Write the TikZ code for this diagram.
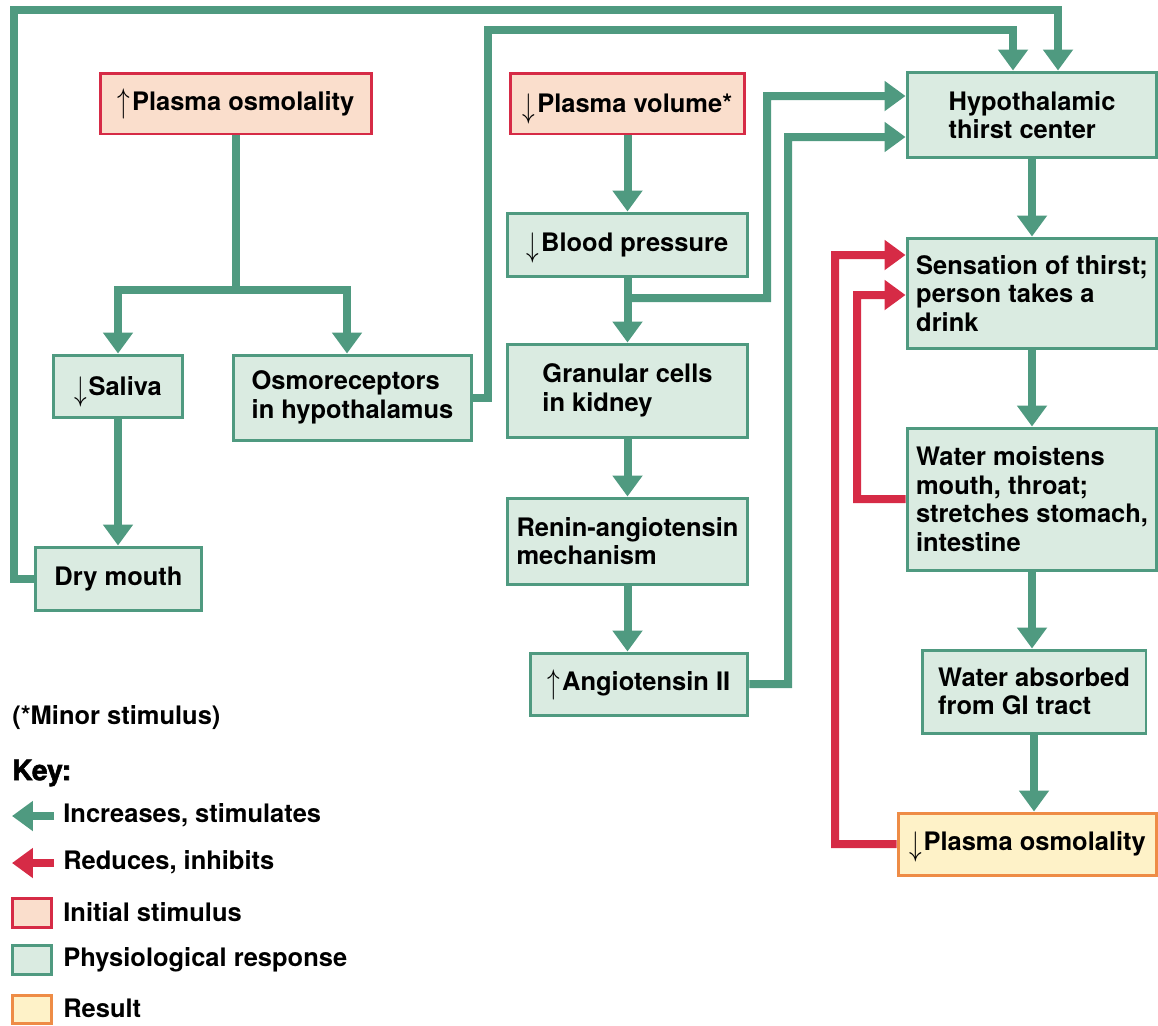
\documentclass[tikz,border=0pt]{standalone}
\usepackage{fontspec}
\setmainfont{TeX Gyre Heros}
\newfontfamily\keyfont[FakeBold=2]{texgyreheros-bold.otf}
\usetikzlibrary{arrows.meta}

\definecolor{flowgreen}{RGB}{79,154,128}
\definecolor{respfill}{RGB}{218,235,225}
\definecolor{stimred}{RGB}{214,43,70}
\definecolor{stimfill}{RGB}{250,222,204}
\definecolor{resorange}{RGB}{238,140,70}
\definecolor{resfill}{RGB}{254,242,200}

\newcommand{\incr}{\smash{\raisebox{-0.1em}{\scalebox{1}[1.35]{$\uparrow$}}}\kern1pt}
\newcommand{\decr}{\smash{\raisebox{-0.2em}{\scalebox{1}[1.35]{$\downarrow$}}}\kern1pt}

\tikzset{
    box/.style={draw=flowgreen, fill=respfill, line width=0.06cm, align=left,
        inner sep=0pt, font=\bfseries\fontsize{14.5}{16.2}\selectfont},
    stimbox/.style={box, draw=stimred, fill=stimfill},
    resbox/.style={box, draw=resorange, fill=resfill},
    link/.style={line width=0.16cm, draw=flowgreen},
    stim/.style={link, -{Triangle[width=0.58cm,length=0.42cm]}},
    inhib/.style={stim, draw=stimred},
    keytext/.style={anchor=west, inner sep=0pt, font=\bfseries\fontsize{14.5}{16.2}\selectfont}
}

\begin{document}
\begin{tikzpicture}[x=0.02cm, y=-0.02cm]
            \useasboundingbox (0,0) rectangle (1158,1025);

            % boxes
            \node[stimbox, minimum width=5.44cm, minimum height=1.22cm] (plasmaUp) at (236,103.5) {\incr Plasma osmolality};
            \node[stimbox, minimum width=4.7cm, minimum height=1.22cm] (volume) at (627.5,103.5) {\decr Plasma volume*};
            \node[box, minimum width=5.0cm, minimum height=1.72cm] (thirstCtr) at (1032,115) {Hypothalamic\\thirst center};
            \node[box, minimum width=4.82cm, minimum height=1.26cm] (bp) at (627.5,244.5) {\decr Blood pressure};
            \node[box, minimum width=5.0cm, minimum height=2.22cm] (sensation) at (1032,293.5) {Sensation of thirst;\\person takes a\\drink};
            \node[box, minimum width=2.6cm, minimum height=1.24cm] (saliva) at (118,386) {\decr Saliva};
            \node[box, minimum width=4.78cm, minimum height=1.7cm] (osmoRec) at (352.5,397.5) {Osmoreceptors\\in hypothalamus};
            \node[box, minimum width=4.82cm, minimum height=1.86cm] (granular) at (627.5,390.5) {Granular cells\\in kidney};
            \node[box, minimum width=5.0cm, minimum height=2.84cm] (moistens) at (1032,499) {Water moistens\\mouth, throat;\\stretches stomach,\\intestine};
            \node[box, minimum width=4.82cm, minimum height=1.72cm] (renin) at (627.5,541) {Renin-angiotensin\\mechanism};
            \node[box, minimum width=3.34cm, minimum height=1.26cm] (dryMouth) at (118.5,578.5) {Dry mouth};
            \node[box, minimum width=4.48cm, minimum height=1.66cm] (absorbed) at (1034,691.5) {Water absorbed\\from GI tract};
            \node[box, minimum width=4.36cm, minimum height=1.24cm] (angio) at (639,684) {\incr Angiotensin II};
            \node[resbox, minimum width=5.18cm, minimum height=1.24cm] (plasmaDown) at (1027.5,844) {\decr Plasma osmolality};

            % left branch
            \coordinate (osmSplit) at (236,290);
            \draw[link] (plasmaUp.south) -- (osmSplit);
            \draw[stim] (osmSplit) -| (saliva.north);
            \draw[stim] (osmSplit) -| ([xshift=-0.11cm]osmoRec.north);
            \draw[stim] (saliva.south) -- (saliva.south |- dryMouth.north);
            \draw[stim] (dryMouth.west) -| (14,10) -| ([xshift=0.52cm]thirstCtr.north);
            \draw[stim] (osmoRec.east) -| (488,30) -| ([xshift=-0.38cm]thirstCtr.north);

            % middle column
            \coordinate (bpSplit) at (627.5,298);
            \draw[stim] (volume.south) -- (bp.north);
            \draw[stim] (bp.south) -- (granular.north);
            \draw[stim] (bpSplit) -| (767,96) -- ([yshift=0.38cm]thirstCtr.west);
            \draw[stim] (granular.south) -- (renin.north);
            \draw[stim] (renin.south) -- (renin.south |- angio.north);
            \draw[stim] (angio.east) -| (788,137) -- ([yshift=-0.44cm]thirstCtr.west);

            % right column
            \draw[stim] (thirstCtr.south) -- (sensation.north);
            \draw[stim] (sensation.south) -- (moistens.north);
            \draw[stim] (moistens.south) -- (moistens.south |- absorbed.north);
            \draw[stim] (absorbed.south) -- (absorbed.south |- plasmaDown.north);
            \draw[inhib] (plasmaDown.west) -| (835,255) -- ([yshift=0.77cm]sensation.west);
            \draw[inhib] (moistens.west) -| (857,295) -- ([yshift=-0.03cm]sensation.west);

            % key
            \node[keytext] (minor) at (12,718) {(*Minor stimulus)};
            \node[keytext, font=\keyfont\fontsize{16}{17}\selectfont] (key) at (12,773) {Key:};
            \coordinate (incFrom) at (54,816);
            \coordinate (incTo) at (12,816);
            \draw[stim] (incFrom) -- (incTo);
            \node[keytext] (incText) at (63,815) {Increases, stimulates};
            \coordinate (redFrom) at (54,863);
            \coordinate (redTo) at (12,863);
            \draw[inhib] (redFrom) -- (redTo);
            \node[keytext] (redText) at (63,862) {Reduces, inhibits};
            \node[stimbox, minimum width=0.8cm, minimum height=0.58cm] (keyStim) at (32,912.5) {};
            \node[keytext] (stimText) at (63,912) {Initial stimulus};
            \node[box, minimum width=0.8cm, minimum height=0.58cm] (keyResp) at (32,960) {};
            \node[keytext] (respText) at (63,960) {Physiological response};
            \node[resbox, minimum width=0.8cm, minimum height=0.56cm] (keyRes) at (32,1009) {};
            \node[keytext] (resText) at (63,1008) {Result};

        \end{tikzpicture}
\end{document}
